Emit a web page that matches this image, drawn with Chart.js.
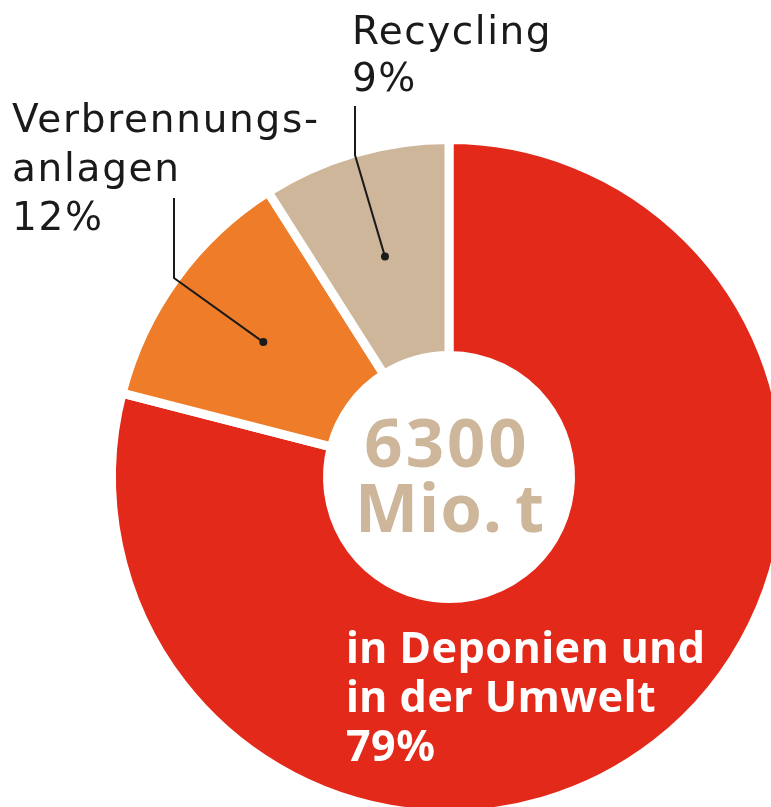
<!DOCTYPE html>
<html lang="de">
<head>
<meta charset="utf-8">
<title>Plastikmüll 6300 Mio. t</title>
<script src="https://cdn.jsdelivr.net/npm/chart.js@4.4.1/dist/chart.umd.min.js"></script>
<style>
  html, body { margin: 0; padding: 0; background: #fff; overflow: hidden; }
  #wrap { position: relative; width: 898px; height: 954px; }
</style>
</head>
<body>
<div id="wrap"><canvas id="donut" width="898" height="954"></canvas></div>
<script>
  // Daten
  const categories = ["in Deponien und in der Umwelt", "Verbrennungsanlagen", "Recycling"];
  const shares = [79, 12, 9];
  const sliceColors = ["#e3291a", "#ee7c28", "#cdb69a"];
  const labelLines = [
    ["in Deponien und", "in der Umwelt", "79%"],
    ["Verbrennungs-", "anlagen", "12%"],
    ["Recycling", "9%"],
  ];
  const totalLines = ["6300", "Mio.\u202Ft"];

  // Beschriftungen: Textposition und Knick der Führungslinie
  const labelStyle = [
    { x: 346, y: 663, color: "#fff", font: "bold 43px 'Noto Sans'", spacing: "0.5px", step: 49, leader: null },
    { x: 12, y: 132, color: "#1a1a1a", font: "39px 'DejaVu Sans'", spacing: "1.7px", step: 49, leader: [[174, 198], [174, 278]] },
    { x: 352, y: 44, color: "#1a1a1a", font: "39px 'DejaVu Sans'", spacing: "1.5px", step: 47, leader: [[355, 106], [355, 155]] },
  ];

  const labelsPlugin = {
    id: "labelsPlugin",
    afterDatasetsDraw(chart) {
      const ctx = chart.ctx;
      const arcs = chart.getDatasetMeta(0).data;
      ctx.save();

      // Führungslinien mit Punkt in der Mitte des Segments
      labelStyle.forEach((st, i) => {
        if (!st.leader) return;
        const p = arcs[i].tooltipPosition();
        ctx.strokeStyle = "#1a1a1a";
        ctx.lineWidth = 2;
        ctx.beginPath();
        ctx.moveTo(st.leader[0][0], st.leader[0][1]);
        ctx.lineTo(st.leader[1][0], st.leader[1][1]);
        ctx.lineTo(p.x, p.y);
        ctx.stroke();
        ctx.fillStyle = "#1a1a1a";
        ctx.beginPath();
        ctx.arc(p.x, p.y, 4, 0, Math.PI * 2);
        ctx.fill();
      });

      // Texte
      ctx.textAlign = "left";
      ctx.textBaseline = "alphabetic";
      labelLines.forEach((lines, i) => {
        const st = labelStyle[i];
        ctx.font = st.font;
        ctx.letterSpacing = st.spacing;
        ctx.fillStyle = st.color;
        lines.forEach((t, k) => ctx.fillText(t, st.x, st.y + k * st.step));
      });

      // Summe in der Mitte
      const c = arcs[0];
      ctx.textAlign = "center";
      ctx.fillStyle = "#cdb69a";
      ctx.font = "bold 67px 'Noto Sans'";
      ctx.letterSpacing = "3px";
      ctx.fillText(totalLines[0], c.x - 2, c.y - 10);
      ctx.letterSpacing = "1px";
      ctx.fillText(totalLines[1], c.x + 1, c.y + 55);
      ctx.restore();
    },
  };

  new Chart(document.getElementById("donut").getContext("2d"), {
    type: "doughnut",
    data: {
      labels: categories,
      datasets: [
        {
          data: shares,
          backgroundColor: sliceColors,
          borderColor: "#fff",
          borderWidth: 9,
        },
      ],
    },
    options: {
      responsive: false,
      animation: false,
      cutout: "36%",
      layout: { padding: { left: 107, right: 107, top: 135, bottom: 135 } },
      plugins: {
        legend: { display: false },
        tooltip: { enabled: false },
      },
    },
    plugins: [labelsPlugin],
  });
</script>
</body>
</html>
